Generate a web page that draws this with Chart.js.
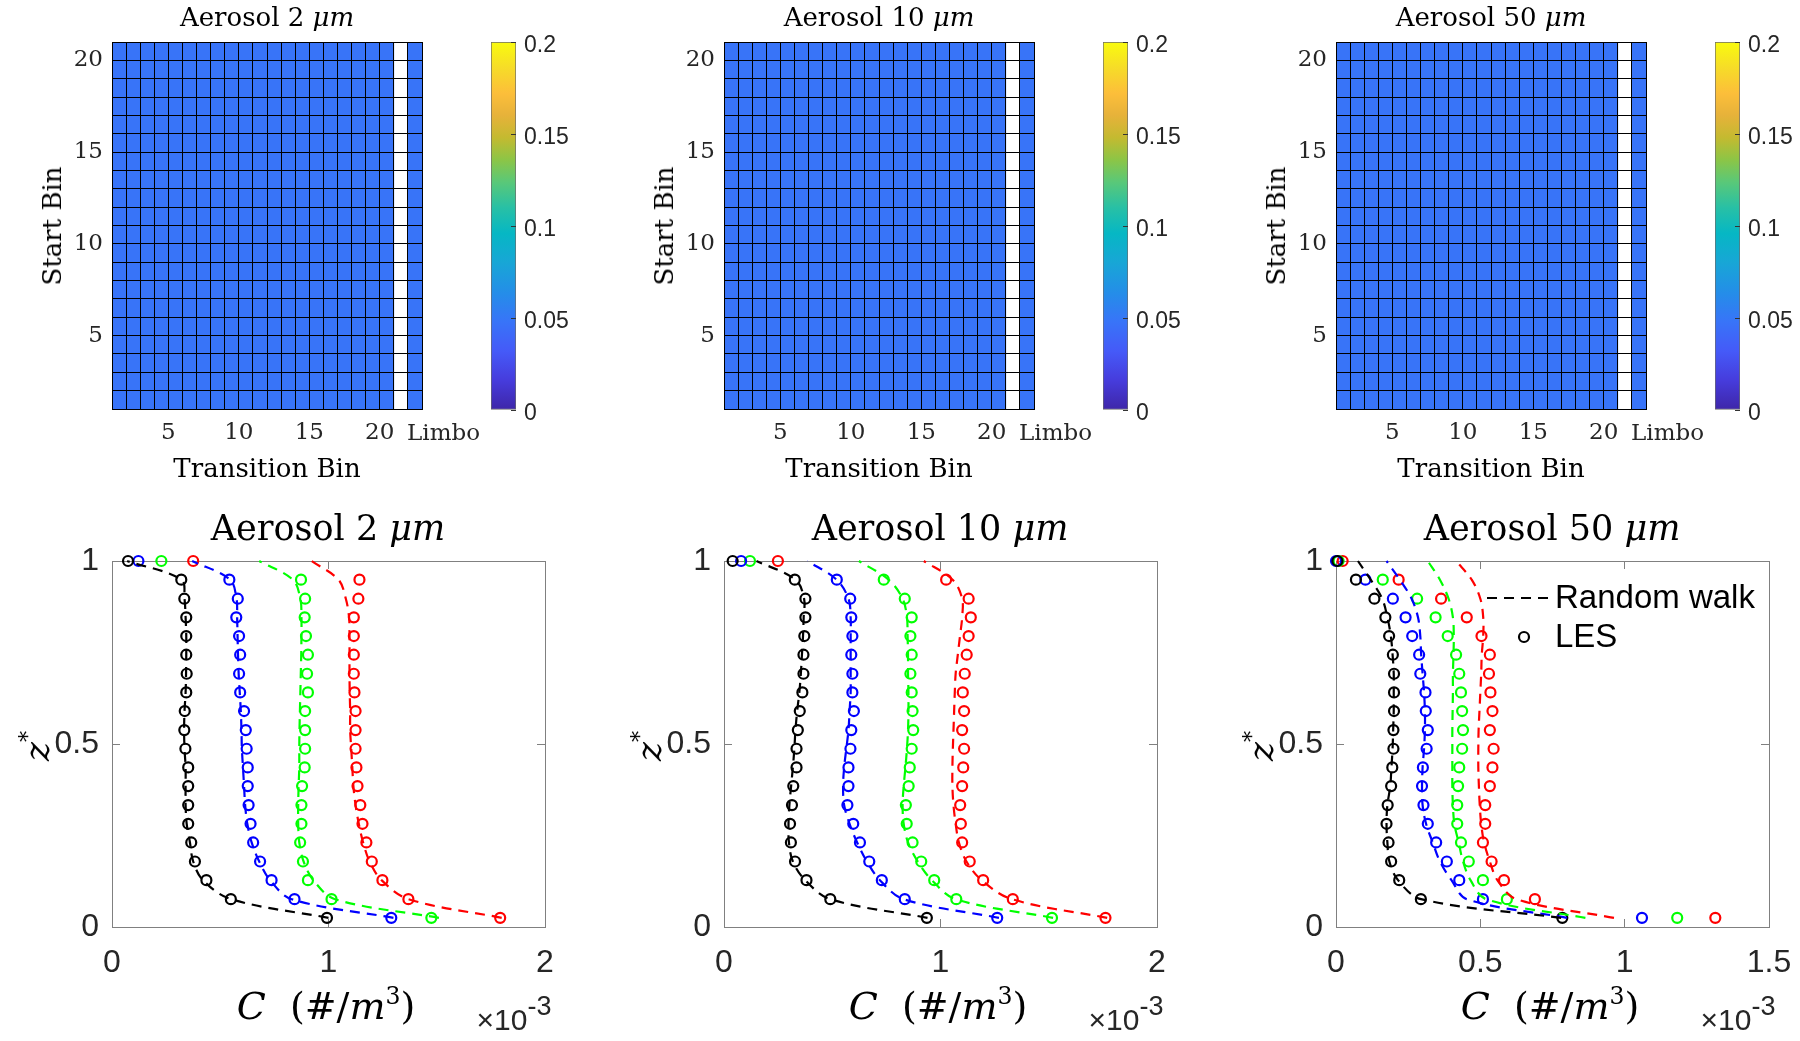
<!DOCTYPE html>
<html>
<head>
<meta charset="utf-8">
<script src="https://cdn.jsdelivr.net/npm/chart.js@4.4.0/dist/chart.umd.min.js"></script>
<style>
  body { margin: 0; background: #fff; width: 1800px; height: 1041px; position: relative; overflow: hidden; }
  canvas { position: absolute; }
  .txt { position: absolute; white-space: nowrap; color: #000; transform: translate(-50%, -50%); line-height: 1; }
  .serif { font-family: 'DejaVu Serif', serif; }
  .sans { font-family: 'Liberation Sans', sans-serif; }
  .rot { transform: translate(-50%, -50%) rotate(-90deg); }
  sup { font-size: 0.62em; vertical-align: 0.62em; line-height: 0; }
  .mult { color: #262626; }
  .mult sup { font-size: 0.9em; vertical-align: 0.55em; }
</style>
</head>
<body>

<script>
// ---------- data ----------
const aerosolSizes = ['2', '10', '50'];

// heat maps: transition probability, same for every start bin
const transitionBins = [1, 2, 3, 4, 5, 6, 7, 8, 9, 10, 11, 12, 13, 14, 15, 16, 17, 18, 19, 20, 21, 22];
const startBins = [1, 2, 3, 4, 5, 6, 7, 8, 9, 10, 11, 12, 13, 14, 15, 16, 17, 18, 19, 20];
const heatTicks = [5, 10, 15, 20];
const limboLabel = 'Limbo';
const probRow2  = [0.048, 0.048, 0.048, 0.048, 0.048, 0.048, 0.048, 0.048, 0.048, 0.048, 0.048, 0.048, 0.048, 0.048, 0.048, 0.048, 0.048, 0.048, 0.048, 0.048, null, 0.048];
const probRow10 = [0.048, 0.048, 0.048, 0.048, 0.048, 0.048, 0.048, 0.048, 0.048, 0.048, 0.048, 0.048, 0.048, 0.048, 0.048, 0.048, 0.048, 0.048, 0.048, 0.048, null, 0.048];
const probRow50 = [0.048, 0.048, 0.048, 0.048, 0.048, 0.048, 0.048, 0.048, 0.048, 0.048, 0.048, 0.048, 0.048, 0.048, 0.048, 0.048, 0.048, 0.048, 0.048, 0.048, null, 0.048];
const cbarTicks = [0, 0.05, 0.1, 0.15, 0.2];

// profiles: z* levels (bottom to top), C in units of 1e-3 #/m^3
const zLevels = [0.025, 0.076, 0.128, 0.179, 0.231, 0.282, 0.333, 0.385, 0.436, 0.487, 0.538, 0.590, 0.641, 0.692, 0.744, 0.795, 0.846, 0.897, 0.949, 1.000];
const zTicks = [0, 0.5, 1];
const cTicks2 = [0, 1, 2];
const cTicks10 = [0, 1, 2];
const cTicks50 = [0, 0.5, 1, 1.5];
const legendLabels = ['Random walk', 'LES'];

// 2 um
const les2Black = [0.993, 0.549, 0.436, 0.383, 0.366, 0.352, 0.352, 0.352, 0.352, 0.339, 0.334, 0.336, 0.343, 0.345, 0.343, 0.343, 0.343, 0.334, 0.320, 0.074];
const rw2Black  = [1.000, 0.550, 0.420, 0.375, 0.360, 0.345, 0.340, 0.340, 0.340, 0.335, 0.333, 0.335, 0.340, 0.342, 0.343, 0.343, 0.340, 0.335, 0.320, 0.070];
const les2Blue  = [1.290, 0.843, 0.737, 0.684, 0.652, 0.640, 0.631, 0.627, 0.627, 0.622, 0.618, 0.610, 0.592, 0.587, 0.592, 0.587, 0.574, 0.581, 0.542, 0.122];
const rw2Blue   = [1.300, 0.830, 0.730, 0.680, 0.645, 0.625, 0.615, 0.610, 0.605, 0.600, 0.598, 0.595, 0.590, 0.585, 0.582, 0.580, 0.578, 0.575, 0.545, 0.370];
const les2Green = [1.475, 1.014, 0.905, 0.882, 0.869, 0.875, 0.875, 0.878, 0.890, 0.892, 0.892, 0.892, 0.905, 0.901, 0.905, 0.896, 0.890, 0.892, 0.873, 0.228];
const rw2Green  = [1.510, 1.030, 0.930, 0.885, 0.865, 0.860, 0.860, 0.862, 0.865, 0.865, 0.866, 0.868, 0.870, 0.872, 0.874, 0.875, 0.875, 0.870, 0.835, 0.680];
const les2Red   = [1.793, 1.369, 1.249, 1.200, 1.175, 1.157, 1.147, 1.134, 1.129, 1.125, 1.125, 1.125, 1.120, 1.117, 1.117, 1.117, 1.117, 1.138, 1.143, 0.375];
const rw2Red    = [1.800, 1.370, 1.245, 1.190, 1.160, 1.140, 1.125, 1.115, 1.110, 1.105, 1.100, 1.100, 1.098, 1.097, 1.097, 1.097, 1.095, 1.080, 1.046, 0.922];

// 10 um
const les10Black = [0.937, 0.491, 0.381, 0.328, 0.309, 0.305, 0.314, 0.320, 0.335, 0.335, 0.341, 0.350, 0.362, 0.367, 0.367, 0.371, 0.376, 0.376, 0.327, 0.040];
const rw10Black  = [0.940, 0.490, 0.375, 0.318, 0.300, 0.298, 0.302, 0.310, 0.318, 0.325, 0.330, 0.338, 0.348, 0.355, 0.360, 0.365, 0.368, 0.370, 0.330, 0.150];
const les10Blue  = [1.262, 0.835, 0.729, 0.671, 0.628, 0.597, 0.570, 0.575, 0.575, 0.584, 0.588, 0.600, 0.593, 0.593, 0.588, 0.593, 0.588, 0.583, 0.521, 0.079];
const rw10Blue   = [1.270, 0.830, 0.720, 0.660, 0.615, 0.580, 0.555, 0.550, 0.555, 0.565, 0.575, 0.580, 0.585, 0.585, 0.585, 0.585, 0.585, 0.575, 0.520, 0.385];
const les10Green = [1.515, 1.073, 0.971, 0.911, 0.871, 0.844, 0.840, 0.853, 0.858, 0.867, 0.874, 0.871, 0.867, 0.861, 0.867, 0.861, 0.867, 0.835, 0.738, 0.120];
const rw10Green  = [1.520, 1.070, 0.960, 0.895, 0.850, 0.830, 0.825, 0.830, 0.838, 0.845, 0.850, 0.852, 0.852, 0.850, 0.850, 0.848, 0.845, 0.825, 0.760, 0.623];
const les10Red   = [1.762, 1.334, 1.197, 1.135, 1.100, 1.094, 1.091, 1.100, 1.105, 1.109, 1.100, 1.109, 1.103, 1.112, 1.121, 1.130, 1.140, 1.130, 1.026, 0.249];
const rw10Red    = [1.770, 1.330, 1.190, 1.120, 1.085, 1.070, 1.060, 1.055, 1.055, 1.057, 1.060, 1.063, 1.066, 1.070, 1.080, 1.090, 1.100, 1.100, 1.056, 0.923];

// 50 um
const les50Black = [0.784, 0.294, 0.219, 0.191, 0.182, 0.175, 0.179, 0.191, 0.195, 0.199, 0.199, 0.201, 0.201, 0.201, 0.197, 0.184, 0.171, 0.133, 0.069, 0.005];
const rw50Black  = [0.780, 0.295, 0.215, 0.185, 0.178, 0.175, 0.178, 0.188, 0.192, 0.196, 0.198, 0.200, 0.200, 0.200, 0.196, 0.190, 0.178, 0.160, 0.120, 0.076];
const les50Blue  = [1.060, 0.509, 0.427, 0.384, 0.347, 0.318, 0.303, 0.298, 0.301, 0.314, 0.318, 0.311, 0.310, 0.292, 0.288, 0.264, 0.241, 0.197, 0.102, 0.000];
const rw50Blue   = [0.800, 0.453, 0.400, 0.360, 0.335, 0.312, 0.300, 0.298, 0.300, 0.305, 0.308, 0.308, 0.305, 0.300, 0.295, 0.292, 0.284, 0.262, 0.221, 0.175];
const les50Green = [1.182, 0.592, 0.509, 0.460, 0.433, 0.420, 0.420, 0.423, 0.427, 0.437, 0.440, 0.437, 0.433, 0.427, 0.416, 0.387, 0.345, 0.281, 0.162, 0.009];
const rw50Green  = [0.864, 0.520, 0.466, 0.440, 0.425, 0.410, 0.405, 0.403, 0.403, 0.403, 0.403, 0.404, 0.405, 0.405, 0.407, 0.408, 0.405, 0.390, 0.360, 0.318];
const les50Red   = [1.314, 0.689, 0.582, 0.539, 0.509, 0.517, 0.517, 0.533, 0.542, 0.546, 0.533, 0.542, 0.535, 0.530, 0.533, 0.504, 0.453, 0.364, 0.217, 0.023];
const rw50Red    = [0.963, 0.625, 0.559, 0.533, 0.513, 0.503, 0.498, 0.495, 0.493, 0.493, 0.494, 0.497, 0.500, 0.503, 0.505, 0.510, 0.510, 0.500, 0.470, 0.416];

// ---------- styles ----------
const seriesColors = ['#000000', '#0000ff', '#00ff00', '#ff0000'];
const tickColor = '#262626';
const boxColor = '#808080';
const panelDx = 612;

// parula-like colour stops
const parulaStops = [
  [0.00, [62, 38, 168]], [0.08, [70, 60, 220]], [0.16, [69, 90, 248]], [0.24, [56, 116, 248]],
  [0.32, [36, 142, 232]], [0.40, [24, 166, 214]], [0.48, [6, 183, 196]], [0.55, [40, 192, 165]],
  [0.62, [90, 200, 120]], [0.68, [140, 197, 70]], [0.74, [196, 186, 48]], [0.80, [230, 178, 58]],
  [0.86, [252, 190, 58]], [0.93, [246, 220, 40]], [1.00, [249, 251, 14]]
];
function parula(t) {
  t = Math.min(1, Math.max(0, t));
  for (let i = 1; i < parulaStops.length; i++) {
    const [t1, c1] = parulaStops[i];
    const [t0, c0] = parulaStops[i - 1];
    if (t <= t1) {
      const f = (t - t0) / (t1 - t0);
      const c = c0.map((v, k) => Math.round(v + (c1[k] - v) * f));
      return 'rgb(' + c.join(',') + ')';
    }
  }
  return 'rgb(249,251,14)';
}

Chart.defaults.font.family = "'Liberation Sans', sans-serif";
Chart.defaults.color = tickColor;

function addCanvas(left, top, w, h) {
  const c = document.createElement('canvas');
  c.width = w; c.height = h;
  c.style.left = left + 'px'; c.style.top = top + 'px';
  c.style.width = w + 'px'; c.style.height = h + 'px';
  document.body.appendChild(c);
  return c;
}
function addText(html, x, y, cls, size, extra) {
  const d = document.createElement('div');
  d.className = 'txt ' + cls;
  d.style.left = x + 'px'; d.style.top = y + 'px';
  d.style.fontSize = size + 'px';
  if (extra) Object.assign(d.style, extra);
  d.innerHTML = html;
  document.body.appendChild(d);
}

// ---------- heat map ----------
function makeHeat(k, row) {
  const dx = k * panelDx;
  const cells = [];
  startBins.forEach(r => {
    transitionBins.forEach((c, i) => {
      if (row[i] !== null) cells.push({x: c + 0.5, y: [r, r + 1], v: row[i]});
    });
  });
  const cmax = cbarTicks[cbarTicks.length - 1];
  // plot area: x 112..422, y 42..409
  new Chart(addCanvas(42 + dx, 12, 400, 447), {
    type: 'bar',
    data: {
      datasets: [{
        data: cells,
        backgroundColor: ctx => ctx.raw ? parula(ctx.raw.v / cmax) : 'transparent',
        borderWidth: 0,
        barPercentage: 1,
        categoryPercentage: 1
      }]
    },
    options: {
      responsive: false, animation: false, events: [],
      layout: {padding: {left: 0, top: 30, right: 20, bottom: 0}},
      plugins: {legend: {display: false}, tooltip: {enabled: false}},
      scales: {
        x: {
          type: 'linear', min: transitionBins[0], max: transitionBins[transitionBins.length - 1] + 1,
          offset: false,
          grid: {offset: false, color: '#000', lineWidth: 1, drawTicks: false, z: 1},
          border: {display: true, color: '#000', z: 1},
          ticks: {stepSize: 1, autoSkip: false, maxRotation: 0, padding: 10,
                  font: {family: 'DejaVu Serif', size: 23}, color: tickColor,
                  callback: v => heatTicks.includes(v) ? String(v) : ''},
          afterFit: s => { s.height = 50; }
        },
        y: {
          type: 'linear', min: startBins[0], max: startBins[startBins.length - 1] + 1,
          grid: {color: '#000', lineWidth: 1, drawTicks: false, z: 1},
          border: {display: true, color: '#000', z: 1},
          ticks: {stepSize: 1, autoSkip: false, padding: 9,
                  font: {family: 'DejaVu Serif', size: 23}, color: tickColor,
                  callback: v => heatTicks.includes(v) ? String(v) : ''},
          afterFit: s => { s.width = 70; }
        }
      }
    }
  });

  // colour bar, plot area x 491..516, y 42..410
  new Chart(addCanvas(480 + dx, 10, 106, 432), {
    type: 'bar',
    data: {
      labels: ['cb'],
      datasets: [{
        data: [[cbarTicks[0], cmax]],
        backgroundColor: ctx => {
          const a = ctx.chart.chartArea;
          if (!a) return null;
          const g = ctx.chart.ctx.createLinearGradient(0, a.bottom, 0, a.top);
          parulaStops.forEach(([t, c]) => g.addColorStop(t, 'rgb(' + c.join(',') + ')'));
          return g;
        },
        borderColor: '#6b6b6b', borderWidth: 1, borderSkipped: false,
        barPercentage: 1, categoryPercentage: 1
      }]
    },
    options: {
      responsive: false, animation: false, events: [],
      layout: {padding: {left: 11, top: 32, right: 0, bottom: 32}},
      plugins: {legend: {display: false}, tooltip: {enabled: false}},
      scales: {
        x: {display: false},
        y: {
          position: 'right', min: cbarTicks[0], max: cmax,
          grid: {drawOnChartArea: false, drawTicks: true, tickLength: -5, color: '#333', z: 1},
          border: {display: false},
          ticks: {padding: 13, labelOffset: 4, font: {size: 23}, color: tickColor, callback: v => String(v)},
          afterBuildTicks: s => { s.ticks = cbarTicks.map(v => ({value: v})); },
          afterFit: s => { s.width = 70; }
        }
      }
    }
  });

  addText('Aerosol ' + aerosolSizes[k] + ' <i>μm</i>', 267 + dx, 17, 'serif', 26);
  addText('Transition Bin', 267 + dx, 468, 'serif', 26);
  addText('Start Bin', 52 + dx, 226, 'serif rot', 26);
  addText(limboLabel, 407 + dx, 432, 'serif', 23, {transform: 'translate(0,-50%)', color: tickColor});
}

// ---------- profile plots ----------
const rwLegend = {
  id: 'rwLegend',
  afterDraw(chart) {
    const {ctx, chartArea: a} = chart;
    ctx.save();
    ctx.strokeStyle = '#000';
    ctx.lineWidth = 2.2;
    ctx.setLineDash([10, 7]);
    ctx.beginPath(); ctx.moveTo(a.right - 282, a.top + 37); ctx.lineTo(a.right - 220, a.top + 37); ctx.stroke();
    ctx.setLineDash([]);
    ctx.beginPath(); ctx.arc(a.right - 245, a.top + 76, 5, 0, 2 * Math.PI); ctx.stroke();
    ctx.fillStyle = '#000';
    ctx.font = "33px 'Liberation Sans'";
    ctx.textBaseline = 'middle';
    ctx.fillText(legendLabels[0], a.right - 214, a.top + 38);
    ctx.fillText(legendLabels[1], a.right - 214, a.top + 77);
    ctx.restore();
  }
};

function makeProfile(k, les, rw, cTicks, withLegend) {
  const dx = k * panelDx;
  const datasets = [];
  seriesColors.forEach((col, i) => {
    datasets.push({
      data: zLevels.map((z, j) => ({x: rw[i][j], y: z})),
      showLine: true, borderColor: col, borderWidth: 2.2, borderDash: [10, 7],
      pointRadius: 0, tension: 0.35, clip: false
    });
  });
  seriesColors.forEach((col, i) => {
    datasets.push({
      data: zLevels.map((z, j) => ({x: les[i][j], y: z})),
      showLine: false, pointRadius: 5, pointBorderWidth: 2.2,
      pointBorderColor: col, pointBackgroundColor: 'rgba(0,0,0,0)', clip: false
    });
  });
  const cMax = cTicks[cTicks.length - 1];
  const tickSet = vals => s => { s.ticks = vals.map(v => ({value: v})); };
  // plot area: x 112..545, y 561..927
  new Chart(addCanvas(12 + dx, 513, 581, 474), {
    type: 'scatter',
    data: {datasets},
    options: {
      responsive: false, animation: false, events: [],
      layout: {padding: {left: 0, top: 48, right: 48, bottom: 0}},
      plugins: {legend: {display: false}, tooltip: {enabled: false}},
      scales: {
        x: {
          type: 'linear', min: cTicks[0], max: cMax,
          grid: {drawOnChartArea: false, tickLength: -8, color: boxColor},
          border: {color: boxColor},
          ticks: {padding: 25, font: {size: 32}, color: tickColor, maxRotation: 0, callback: v => String(v)},
          afterBuildTicks: tickSet(cTicks),
          afterFit: s => { s.height = 60; }
        },
        x2: {
          type: 'linear', position: 'top', min: cTicks[0], max: cMax,
          grid: {drawOnChartArea: false, tickLength: -8, color: boxColor},
          border: {color: boxColor},
          ticks: {display: false},
          afterBuildTicks: tickSet(cTicks),
          afterFit: s => { s.height = 0; }
        },
        y: {
          type: 'linear', min: zTicks[0], max: zTicks[zTicks.length - 1],
          grid: {drawOnChartArea: false, tickLength: -8, color: boxColor},
          border: {color: boxColor},
          ticks: {padding: 21, font: {size: 32}, color: tickColor, callback: v => String(v)},
          afterBuildTicks: tickSet(zTicks),
          afterFit: s => { s.width = 100; }
        },
        y2: {
          type: 'linear', position: 'right', min: zTicks[0], max: zTicks[zTicks.length - 1],
          grid: {drawOnChartArea: false, tickLength: -8, color: boxColor},
          border: {color: boxColor},
          ticks: {display: false},
          afterBuildTicks: tickSet(zTicks),
          afterFit: s => { s.width = 0; }
        }
      }
    },
    plugins: withLegend ? [rwLegend] : []
  });

  addText('Aerosol ' + aerosolSizes[k] + ' <i>μm</i>', 328 + dx, 528, 'serif', 35);
  addText('<i>C</i>&nbsp;&nbsp;(#/<i>m</i><sup>3</sup>)', 326 + dx, 1006, 'serif', 38);
  addText('×10<sup>-3</sup>', 514 + dx, 1020, 'sans mult', 30);
  addText('<i>z</i><sup>*</sup>', 37 + dx, 746, 'serif rot', 36);
}

makeHeat(0, probRow2);
makeHeat(1, probRow10);
makeHeat(2, probRow50);

makeProfile(0, [les2Black, les2Blue, les2Green, les2Red], [rw2Black, rw2Blue, rw2Green, rw2Red], cTicks2, false);
makeProfile(1, [les10Black, les10Blue, les10Green, les10Red], [rw10Black, rw10Blue, rw10Green, rw10Red], cTicks10, false);
makeProfile(2, [les50Black, les50Blue, les50Green, les50Red], [rw50Black, rw50Blue, rw50Green, rw50Red], cTicks50, true);
</script>
</body>
</html>
